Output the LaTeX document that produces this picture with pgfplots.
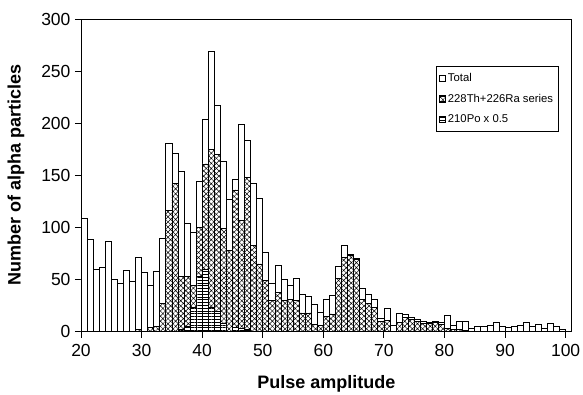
\documentclass[border=0pt]{standalone}
\usepackage{pgfplots}
\pgfplotsset{compat=1.18}
\usepackage{pgfplotstable}
\usetikzlibrary{patterns.meta}
\usepackage{fontspec}
\setmainfont{Liberation Sans}

\pgfplotstableread{
bin total
20 109
21 89
22 60
23 62
24 87
25 50
26 46
27 59
28 48
29 71
30 57
31 44
32 58
33 90
34 181
35 171
36 154
37 104
38 95
39 144
40 204
41 269
42 217
43 163
44 127
45 146
46 199
47 184
48 142
49 128
50 76
51 46
52 64
53 50
54 44
55 51
56 36
57 34
58 26
59 19
60 31
61 35
62 63
63 83
64 74
65 70
66 42
67 36
68 31
69 13
70 22
71 6
72 18
73 17
74 14
75 12
76 10
77 9
78 10
79 9
80 16
81 6
82 10
83 10
84 3
85 5
86 5
87 6
88 9
89 5
90 4
91 5
92 6
93 9
94 5
95 7
96 3
97 8
98 5
99 2
100 0
}\totaltab

\pgfplotstableread{
bin thra
29 2
31 4
32 5
33 27
34 116
35 142
36 53
37 53
38 44
39 100
40 161
41 175
42 170
43 99
44 78
45 136
46 107
47 148
48 83
49 65
50 49
51 30
52 38
53 30
54 31
55 30
56 18
57 18
58 7
59 6
60 15
61 17
62 51
63 71
64 73
65 69
66 31
67 27
68 23
69 10
70 11
72 9
73 14
74 12
75 10
76 8
77 8
78 9
79 7
80 3
81 2
82 2
83 1
}\thratab

\pgfplotstableread{
bin po
36 2
37 5
38 23
39 53
40 60
41 23
42 20
43 8
45 4
46 3
47 2
}\potab

\begin{document}
\begin{tikzpicture}
\begin{axis}[
  at={(0,0)}, anchor=south west,
  scale only axis, width=490.7pt, height=312.7pt,
  xmin=20, xmax=101, ymin=0, ymax=300,
  xtick={20,30,...,100}, ytick={0,50,...,300},
  tick align=outside, major tick length=6pt,
  xtick pos=bottom, ytick pos=left,
  axis line style={line width=0.9pt},
  every tick/.style={black, line width=0.8pt},
  /pgf/number format/assume math mode=true,
  ticklabel style={font=\fontsize{17.5}{20}\selectfont},
  yticklabel style={xshift=-1pt},
  xticklabel style={yshift=-3pt},
  xlabel={Pulse amplitude},
  ylabel={Number of alpha particles},
  every axis x label/.style={at={([yshift=-52pt]axis description cs:0.5,0)}, anchor=center,
    font=\fontsize{18}{21}\selectfont\bfseries},
  every axis y label/.style={at={([xshift=-65pt]axis description cs:0,0.5)}, anchor=center, rotate=90,
    font=\fontsize{18}{21}\selectfont\bfseries},
  legend style={at={(0.7235,0.8497)}, anchor=north west, draw=black, line width=0.6pt,
    font=\fontsize{11.3}{13}\selectfont, row sep=7pt, inner xsep=3pt, inner ysep=5pt,
    cells={anchor=west}},
  legend cell align=left,
  legend image code/.code={\draw[#1, line width=0.6pt] (0pt,-3pt) rectangle (6pt,3pt);},
]
\addplot[ybar, bar width=1, bar shift=0pt, draw=black, line width=0.7pt, fill=white]
  table[x expr=\thisrowno{0}+0.5, y index=1] {\totaltab};
\addlegendentry{Total}
\addplot[ybar, bar width=1, bar shift=0pt, draw=black, line width=0.7pt,
  preaction={fill=white},
  pattern={Hatch[angle=45,distance=3.6pt,line width=0.5pt]}]
  table[x expr=\thisrowno{0}+0.5, y index=1] {\thratab};
\addlegendentry{228Th+226Ra series}
\addplot[ybar, bar width=1, bar shift=0pt, draw=black, line width=0.7pt,
  preaction={fill=white},
  pattern={Lines[angle=0,distance=2.8pt,line width=0.8pt]}]
  table[x expr=\thisrowno{0}+0.5, y index=1] {\potab};
\addlegendentry{210Po x 0.5}
\end{axis}
\pgfresetboundingbox
\path[use as bounding box] (-81pt,-63.3pt) rectangle (502pt,331.7pt);
\end{tikzpicture}
\end{document}
